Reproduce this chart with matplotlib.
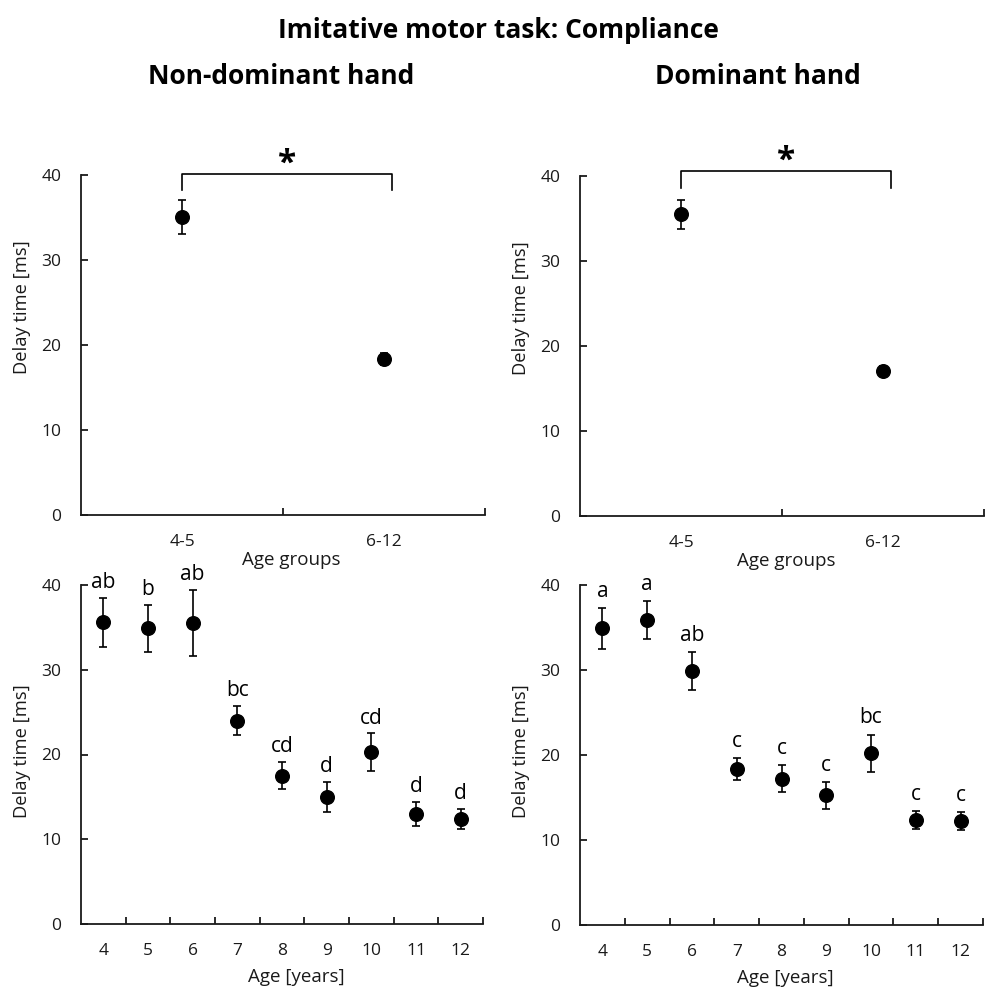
import numpy as np
import matplotlib
matplotlib.use('Agg')
from matplotlib import pyplot as plt

plt.rcParams['font.family'] = ['Open Sans', 'DejaVu Sans']

# group data (top row)
groups = ['4-5', '6-12']
nd_group_mean = [35.1, 18.4]
nd_group_err = [2.0, 0.7]
d_group_mean = [35.5, 17.1]
d_group_err = [1.7, 0.6]

# per-age data (bottom row)
ages = ['4', '5', '6', '7', '8', '9', '10', '11', '12']
nd_age_mean = [35.6, 34.9, 35.5, 24.0, 17.5, 15.0, 20.3, 13.0, 12.4]
nd_age_err = [2.9, 2.75, 3.9, 1.7, 1.6, 1.8, 2.2, 1.4, 1.2]
nd_letters = ['ab', 'b', 'ab', 'bc', 'cd', 'd', 'cd', 'd', 'd']
d_age_mean = [34.9, 35.9, 29.9, 18.35, 17.2, 15.25, 20.2, 12.35, 12.2]
d_age_err = [2.4, 2.2, 2.2, 1.25, 1.6, 1.6, 2.2, 1.1, 1.05]
d_letters = ['a', 'a', 'ab', 'c', 'c', 'c', 'bc', 'c', 'c']

W = 996.0
INK = '#1a1a1a'


def box(l, t, r, b):
    # pixel box -> figure fraction
    return [l / W, 1 - b / W, (r - l) / W, (b - t) / W]


def style(ax, cats, xlabel, ylab_y, xlab_x, xlab_y):
    n = len(cats)
    ax.set_xlim(-0.5, n - 0.5)
    ax.set_ylim(0, 40)
    ax.set_yticks([0, 10, 20, 30, 40])
    for s in ['top', 'right']:
        ax.spines[s].set_visible(False)
    for s in ['left', 'bottom']:
        ax.spines[s].set_linewidth(1.3)
        ax.spines[s].set_color(INK)
    ax.set_xticks(np.arange(n))
    ax.set_xticklabels(cats)
    ax.set_xticks(np.arange(n) + 0.5, minor=True)
    ax.tick_params(axis='x', which='major', length=0, pad=14, labelsize=12.5, colors=INK)
    ax.tick_params(axis='x', which='minor', direction='in', length=5, width=1.3, color=INK)
    ax.tick_params(axis='y', direction='in', length=5, width=1.3, pad=14, labelsize=12.5, colors=INK)
    ax.set_ylabel('Delay time [ms]', fontsize=13.2, color=INK)
    ax.yaxis.set_label_coords(-0.125, ylab_y)
    ax.set_xlabel(xlabel, fontsize=13.5, color=INK)
    ax.xaxis.set_label_coords(xlab_x, xlab_y)


def points(ax, mean, err):
    x = np.arange(len(mean))
    ax.errorbar(x, mean, yerr=err, fmt='o', color='black', ms=9.8,
                elinewidth=1.2, capsize=2.8, capthick=1.2, clip_on=False, zorder=3)


def bracket(ax, y_top, y_drop):
    ax.plot([0, 0, 1.04, 1.04], [y_drop, y_top, y_top, y_drop], color='black',
            lw=1.2, clip_on=False)
    ax.annotate('*', (0.52, y_top), xytext=(0, 1), textcoords='offset points',
                ha='center', va='baseline', fontsize=24, fontweight='bold',
                annotation_clip=False)


fig = plt.figure(figsize=(9.96, 9.96), dpi=100)

ax1 = fig.add_axes(box(81, 175, 485, 515))
points(ax1, nd_group_mean, nd_group_err)
style(ax1, groups, 'Age groups', 0.61, 0.52, -0.105)
bracket(ax1, 40.1, 38.2)

ax2 = fig.add_axes(box(580, 176, 984, 516))
points(ax2, d_group_mean, d_group_err)
style(ax2, groups, 'Age groups', 0.61, 0.51, -0.105)
bracket(ax2, 40.6, 38.6)

ax3 = fig.add_axes(box(81, 585, 483, 924))
points(ax3, nd_age_mean, nd_age_err)
style(ax3, ages, 'Age [years]', 0.51, 0.535, -0.13)
for i, (m, e, s) in enumerate(zip(nd_age_mean, nd_age_err, nd_letters)):
    ax3.annotate(s, (i, m + e), xytext=(0, 7), textcoords='offset points',
                 ha='center', va='baseline', fontsize=15, annotation_clip=False)

ax4 = fig.add_axes(box(580, 585, 983, 925))
points(ax4, d_age_mean, d_age_err)
style(ax4, ages, 'Age [years]', 0.51, 0.51, -0.13)
for i, (m, e, s) in enumerate(zip(d_age_mean, d_age_err, d_letters)):
    ax4.annotate(s, (i, m + e), xytext=(0, 8), textcoords='offset points',
                 ha='center', va='baseline', fontsize=15, annotation_clip=False)

fig.text(0.5, 1 - 30 / W, 'Imitative motor task: Compliance', ha='center', va='center',
         fontsize=19, fontweight='bold')
fig.text(281 / W, 1 - 76 / W, 'Non-dominant hand', ha='center', va='center',
         fontsize=19, fontweight='bold')
fig.text(758 / W, 1 - 76 / W, 'Dominant hand', ha='center', va='center',
         fontsize=19, fontweight='bold')

fig.savefig('out.png', dpi=100)
